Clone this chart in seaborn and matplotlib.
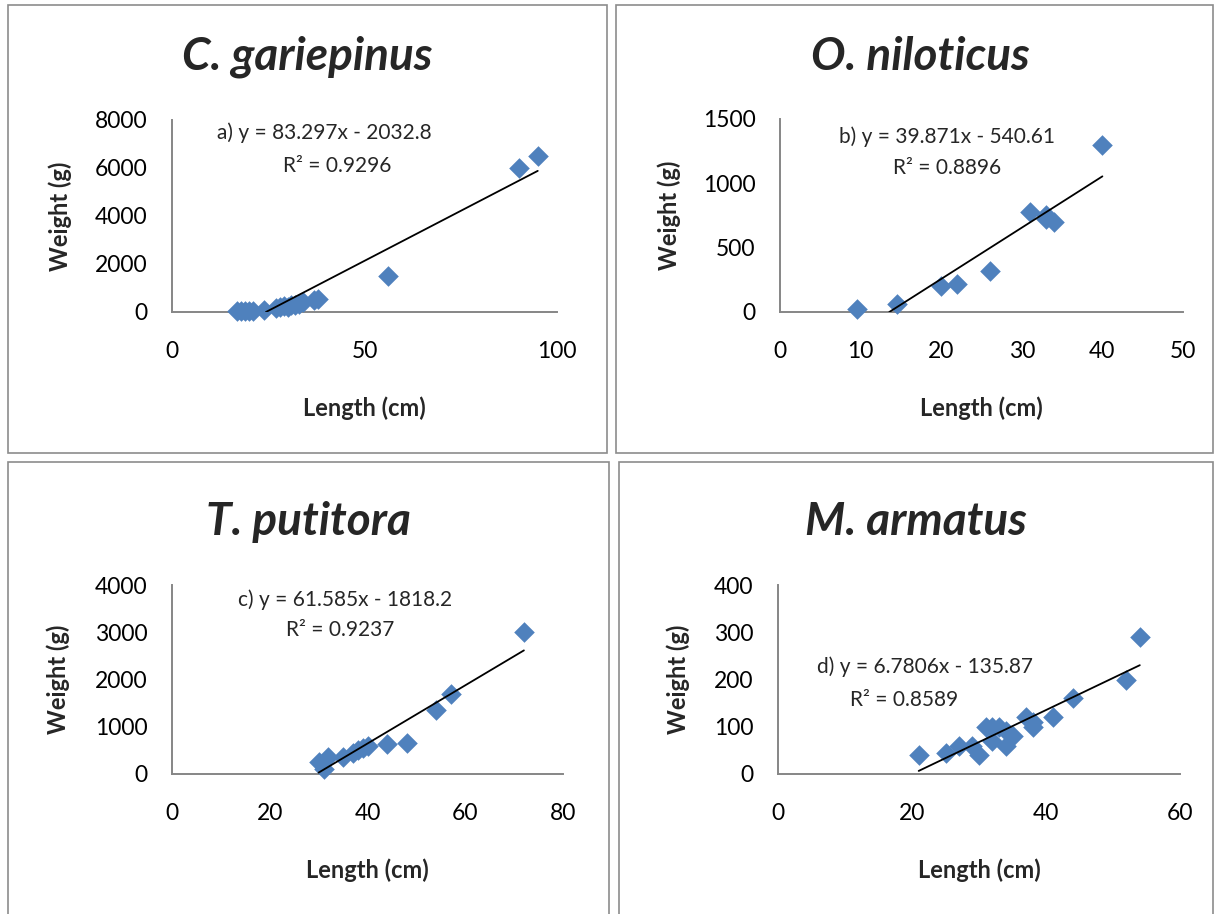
import numpy as np
import pandas as pd
import matplotlib
matplotlib.use("Agg")
import matplotlib.pyplot as plt
from matplotlib.patches import Rectangle
import seaborn as sns

# Length (cm) and weight (g)
a_len = [17, 18, 19, 20, 21, 24, 27, 28, 29, 30, 31, 32, 33, 34, 37, 38, 56, 90, 95]
a_wt = [30, 50, 40, 60, 50, 100, 150, 200, 250, 200, 300, 280, 350, 400, 500, 550, 1500, 6000, 6500]

b_len = [9.5, 14.5, 20, 22, 26, 31, 33, 33, 34, 40]
b_wt = [20, 60, 200, 220, 320, 780, 750, 720, 700, 1300]

c_len = [30, 31, 32, 35, 37, 38, 39, 40, 44, 48, 54, 57, 72]
c_wt = [250, 100, 350, 350, 450, 500, 550, 600, 640, 660, 1350, 1700, 3000]

d_len = [21, 25, 27, 29, 30, 31, 32, 32, 33, 34, 34, 35, 37, 38, 38, 41, 44, 52, 54]
d_wt = [40, 45, 60, 60, 40, 100, 70, 100, 100, 60, 90, 80, 120, 100, 110, 120, 160, 200, 290]

titles = ["C. gariepinus", "O. niloticus", "T. putitora", "M. armatus"]
slopes = [83.297, 39.871, 61.585, 6.7806]
intercepts = [-2032.8, -540.61, -1818.2, -135.87]
eq_text = ["a) y = 83.297x - 2032.8", "b) y = 39.871x - 540.61",
           "c) y = 61.585x - 1818.2", "d) y = 6.7806x - 135.87"]
r2_text = ["R² = 0.9296", "R² = 0.8896", "R² = 0.9237", "R² = 0.8589"]
xlims = [(0, 100), (0, 50), (0, 80), (0, 60)]
ylims = [(0, 8000), (0, 1500), (0, 4000), (0, 400)]
xticks = [[0, 50, 100], [0, 10, 20, 30, 40, 50], [0, 20, 40, 60, 80], [0, 20, 40, 60]]
yticks = [[0, 2000, 4000, 6000, 8000], [0, 500, 1000, 1500],
          [0, 1000, 2000, 3000, 4000], [0, 100, 200, 300, 400]]

sns.set_style("white")
plt.rcParams['font.family'] = ['Lato', 'DejaVu Sans']

W, H = 1217, 914
fig = plt.figure(figsize=(W / 100, H / 100), dpi=100)

def fx(x):
    return x / W

def fy(y):
    return 1 - y / H

# layout in pixels (left, top, right, bottom)
ax_boxes = [(172, 120, 557, 312), (780, 119, 1183, 312),
            (172, 585, 563, 774), (778, 585, 1180, 774)]
panels = [(8, 5, 607, 453), (616, 5, 1213, 453),
          (8, 462, 609, 920), (619, 462, 1213, 920)]
title_pos = [(307, 57), (920, 57), (308, 522), (916, 522)]
eq_pos = [(324, 133), (947, 137), (345, 600), (925, 667)]
r2_pos = [(337, 166), (947, 168), (340, 630), (904, 700)]
ylab_x = [60, 669, 58, 678]
xlab_y = [408, 408, 870, 870]

gray = "#868686"
blue = "#4F81BD"

data = [(a_len, a_wt), (b_len, b_wt), (c_len, c_wt), (d_len, d_wt)]

for i in range(4):
    l, t, r, b = panels[i]
    fig.patches.append(Rectangle((fx(l), fy(b)), fx(r - l), (b - t) / H,
                                 transform=fig.transFigure, fill=False,
                                 edgecolor="#8c8c8c", lw=1.2))
    l, t, r, b = ax_boxes[i]
    ax = fig.add_axes([fx(l), fy(b), fx(r - l), (b - t) / H])
    df = pd.DataFrame({"Length": data[i][0], "Weight": data[i][1]})
    sns.scatterplot(data=df, x="Length", y="Weight", marker="D", s=110,
                    color=blue, linewidth=0, ax=ax, clip_on=False, zorder=3)

    # trendline, clipped at y = 0 like Excel
    m, c0 = slopes[i], intercepts[i]
    x0 = max(min(data[i][0]), -c0 / m)
    x1 = max(data[i][0])
    xs = np.array([x0, x1])
    ax.plot(xs, m * xs + c0, color="black", lw=1.3, zorder=4)

    ax.set_xlim(*xlims[i])
    ax.set_ylim(*ylims[i])
    ax.set_xticks(xticks[i])
    ax.set_yticks(yticks[i])
    for s in ["top", "right"]:
        ax.spines[s].set_visible(False)
    for s in ["left", "bottom"]:
        ax.spines[s].set_color(gray)
        ax.spines[s].set_linewidth(1.4)
    ax.tick_params(axis="both", direction="out", width=1.4,
                   color=gray, labelsize=16.5, labelcolor="black")
    ax.tick_params(axis="x", length=5, pad=16)
    ax.tick_params(axis="y", length=6.5, pad=11)
    ax.set_xlabel("Length (cm)", fontsize=17, fontweight="bold")
    ax.set_ylabel("Weight (g)", fontsize=17, fontweight="bold")
    ax.xaxis.set_label_coords(0.5, -(xlab_y[i] - b) / (b - t))
    ax.yaxis.set_label_coords(-(l - ylab_x[i]) / (r - l), 0.5)
    ax.xaxis.label.set_va("center")
    ax.yaxis.label.set_va("center")

    fig.text(fx(title_pos[i][0]), fy(title_pos[i][1]), titles[i], fontsize=33,
             fontweight="bold", fontstyle="italic", ha="center", va="center")
    fig.text(fx(eq_pos[i][0]), fy(eq_pos[i][1]), eq_text[i], fontsize=15,
             ha="center", va="center")
    fig.text(fx(r2_pos[i][0]), fy(r2_pos[i][1]), r2_text[i], fontsize=15,
             ha="center", va="center")

fig.savefig("out.png", dpi=100, facecolor="white")
